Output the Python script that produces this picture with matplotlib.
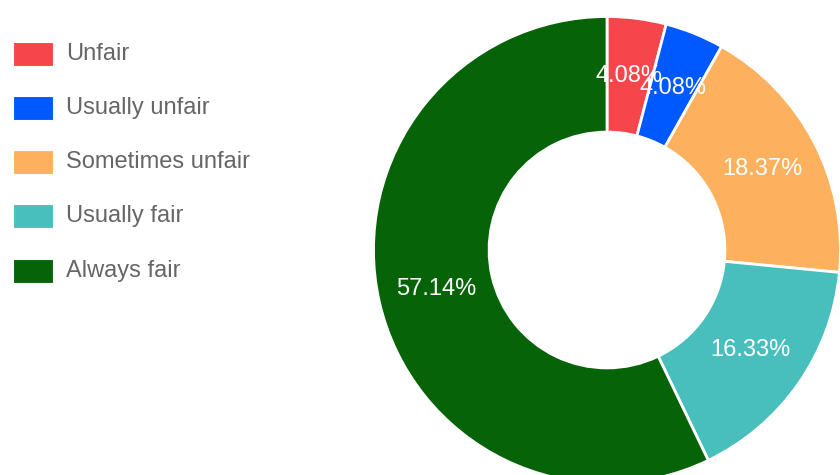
import matplotlib
matplotlib.use('Agg')
import matplotlib.pyplot as plt
from matplotlib.patches import Rectangle

plt.rcParams['font.family'] = ['Liberation Sans', 'DejaVu Sans']

labels = ['Unfair', 'Usually unfair', 'Sometimes unfair', 'Usually fair', 'Always fair']
counts = [2, 2, 9, 8, 28]
colors = ['#f6464c', '#0059ff', '#fdb15e', '#49bfbd', '#066307']

W, H = 840, 475
fig = plt.figure(figsize=(W / 100, H / 100), dpi=100)

# donut: centre (607, 250) px, outer radius 233.5 px
cx, cy, r = 607, 250, 233.5
ax = fig.add_axes([(cx - r) / W, (H - cy - r) / H, 2 * r / W, 2 * r / H])
wedges, texts, autotexts = ax.pie(
    counts, colors=colors, startangle=90, counterclock=False,
    autopct='%.2f%%', pctdistance=0.75,
    wedgeprops=dict(width=0.495, edgecolor='white', linewidth=2),
    textprops=dict(color='white', fontsize=17))
ax.set_xlim(-1, 1)
ax.set_ylim(-1, 1)
ax.axis('off')

# legend drawn by hand, top-left
for i, (lab, col) in enumerate(zip(labels, colors)):
    yc = 53.7 + i * 54.2
    fig.add_artist(Rectangle((13 / W, (H - yc - 12) / H), 40 / W, 24 / H,
                             transform=fig.transFigure, facecolor=col,
                             edgecolor='white', linewidth=0.8))
    fig.text(66 / W, (H - yc) / H, lab, fontsize=17, color='#666666',
             va='center', ha='left')

fig.savefig('out.png', dpi=100)
